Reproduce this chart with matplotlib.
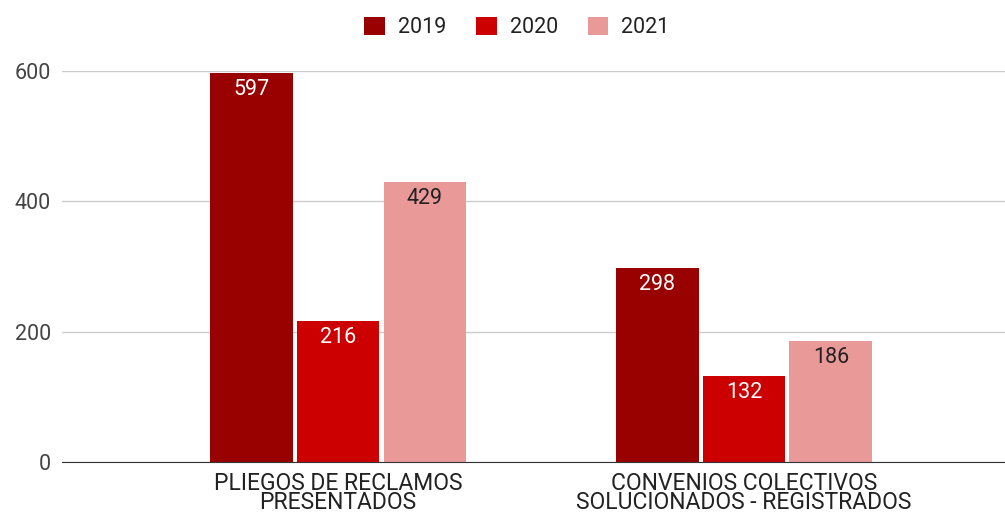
import matplotlib.pyplot as plt
import numpy as np

plt.rcParams['font.family'] = ['Roboto', 'DejaVu Sans']

categories = ['PLIEGOS DE RECLAMOS\nPRESENTADOS', 'CONVENIOS COLECTIVOS\nSOLUCIONADOS - REGISTRADOS']
years = ['2019', '2020', '2021']
values_2019 = [597, 298]
values_2020 = [216, 132]
values_2021 = [429, 186]
colors = ['#990000', '#cc0000', '#ea9999']
label_colors = ['white', 'white', '#222222']

fig = plt.figure(figsize=(10.05, 5.13), dpi=100)
ax = fig.add_axes([62 / 1005, 1 - 462 / 513, 943 / 1005, 391 / 513])

x = np.arange(len(categories))
w = 0.204
step = 0.214
series = [values_2019, values_2020, values_2021]
for i, vals in enumerate(series):
    bars = ax.bar(x + (i - 1) * step, vals, w, color=colors[i], label=years[i], zorder=3)
    for b, v in zip(bars, vals):
        ax.text(b.get_x() + b.get_width() / 2, v - 9, str(v), ha='center', va='top',
                color=label_colors[i], fontsize=15.5, zorder=4)

ax.set_xlim(-0.68, 1.643)
ax.set_ylim(0, 600)
ax.set_yticks([0, 200, 400, 600])
ax.set_xticks(x)
ax.set_xticklabels(categories, fontsize=16.5, color='#222222', linespacing=0.82)
ax.tick_params(axis='y', labelsize=15.5, colors='#444444', length=0, pad=8)
ax.tick_params(axis='x', length=0, pad=7)
ax.grid(axis='y', color='#cccccc', linewidth=1, zorder=0)
for s in ['top', 'right', 'left']:
    ax.spines[s].set_visible(False)
ax.spines['bottom'].set_color('#333333')
ax.spines['bottom'].set_zorder(5)

fig.legend(loc='upper center', bbox_to_anchor=(517 / 1005, 1.005), ncol=3, frameon=False,
           fontsize=15.5, handlelength=0.95, handleheight=0.95, columnspacing=1.4,
           handletextpad=0.6, labelcolor='#222222')

fig.savefig('out.png', dpi=100)
